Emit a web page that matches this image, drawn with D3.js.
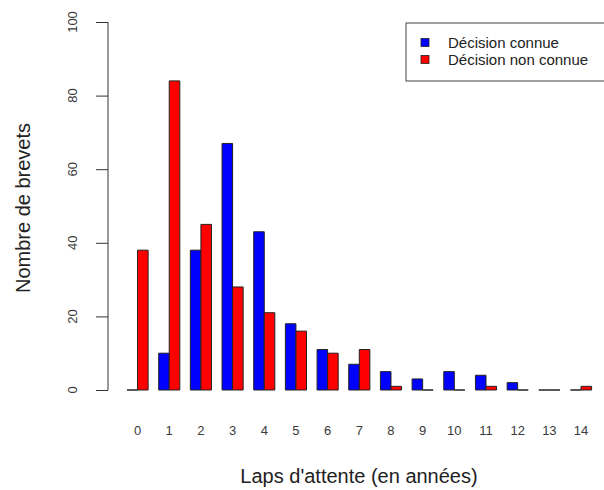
<!DOCTYPE html>
<html>
<head>
<meta charset="utf-8">
<script src="https://cdn.jsdelivr.net/npm/d3@7"></script>
<style>
  html, body { margin: 0; padding: 0; background: #fff; }
  svg { display: block; font-family: "Liberation Sans", Arial, Helvetica, sans-serif; }
</style>
</head>
<body>
<svg id="chart" width="604" height="490"></svg>
<script>
// Waiting time in years
const years = ["0","1","2","3","4","5","6","7","8","9","10","11","12","13","14"];
// Patent counts by series
const decisionConnue    = [0, 10, 38, 67, 43, 18, 11, 7, 5, 3, 5, 4, 2, 0, 0];
const decisionNonConnue = [38, 84, 45, 28, 21, 16, 10, 11, 1, 0, 0, 1, 0, 0, 1];
const seriesNames = ["Décision connue", "Décision non connue"];
const seriesColors = ["#0000ff", "#ff0000"];
const yTicks = [0, 20, 40, 60, 80, 100];

const rows = years.map((y, i) => ({ year: y, values: [decisionConnue[i], decisionNonConnue[i]] }));

const svg = d3.select("#chart");
const ink = "#222";
const tickInk = "#3a3a3a";

const y = d3.scaleLinear().domain([0, 100]).range([390, 22]);
const x0 = d3.scaleBand().domain(years).range([127, 591.6]).paddingInner(1 / 3).paddingOuter(0);
const x1 = d3.scaleBand().domain([0, 1]).range([0, x0.bandwidth()]).padding(0);

// Bars as closed paths so that zero counts still show as a flat outline
const groups = svg.append("g").selectAll("g").data(rows).join("g")
  .attr("transform", d => `translate(${x0(d.year)},0)`);
groups.selectAll("path").data(d => d.values.map((v, k) => ({ v, k }))).join("path")
  .attr("d", d => {
    const xa = x1(d.k), xb = xa + x1.bandwidth();
    const ya = y(0), yb = y(d.v);
    return `M${xa},${ya}V${yb}H${xb}V${ya}Z`;
  })
  .attr("fill", d => seriesColors[d.k])
  .attr("stroke", "#222")
  .attr("stroke-width", 1);

// Y axis (line spans the tick range, labels rotated)
const yAxis = svg.append("g").attr("transform", "translate(108,0)")
  .call(d3.axisLeft(y).tickValues(yTicks).tickSize(12).tickPadding(0).tickFormat(""));
yAxis.select(".domain").attr("d", `M0,${y(0)}V${y(100)}`).attr("stroke", "#333");
yAxis.selectAll(".tick line").attr("stroke", "#333");
svg.append("g").selectAll("text").data(yTicks).join("text")
  .attr("transform", d => `translate(77,${y(d)}) rotate(-90)`)
  .attr("text-anchor", "middle")
  .attr("font-size", 13)
  .attr("fill", tickInk)
  .text(d => d);

// Category labels
svg.append("g").selectAll("text").data(years).join("text")
  .attr("x", d => x0(d) + x0.bandwidth() / 2)
  .attr("y", 435)
  .attr("text-anchor", "middle")
  .attr("font-size", 13)
  .attr("fill", tickInk)
  .text(d => d);

// Axis titles
svg.append("text")
  .attr("x", 359).attr("y", 483)
  .attr("text-anchor", "middle")
  .attr("font-size", 20)
  .attr("fill", ink)
  .text("Laps d'attente (en années)");
svg.append("text")
  .attr("transform", "translate(30,208) rotate(-90)")
  .attr("text-anchor", "middle")
  .attr("font-size", 20)
  .attr("fill", ink)
  .text("Nombre de brevets");

// Legend
const legend = svg.append("g");
legend.append("rect")
  .attr("x", 406).attr("y", 23).attr("width", 240).attr("height", 58)
  .attr("fill", "#fff").attr("stroke", "#444").attr("stroke-width", 1);
const items = legend.selectAll("g.item").data(seriesNames).join("g").attr("class", "item")
  .attr("transform", (d, i) => `translate(0,${i * 17})`);
items.append("rect")
  .attr("x", 421).attr("y", 38.5).attr("width", 8).attr("height", 8)
  .attr("fill", (d, i) => seriesColors[i]).attr("stroke", "#222").attr("stroke-width", 0.8);
items.append("text")
  .attr("x", 448).attr("y", 48)
  .attr("font-size", 15)
  .attr("fill", ink)
  .text(d => d);
</script>
</body>
</html>
